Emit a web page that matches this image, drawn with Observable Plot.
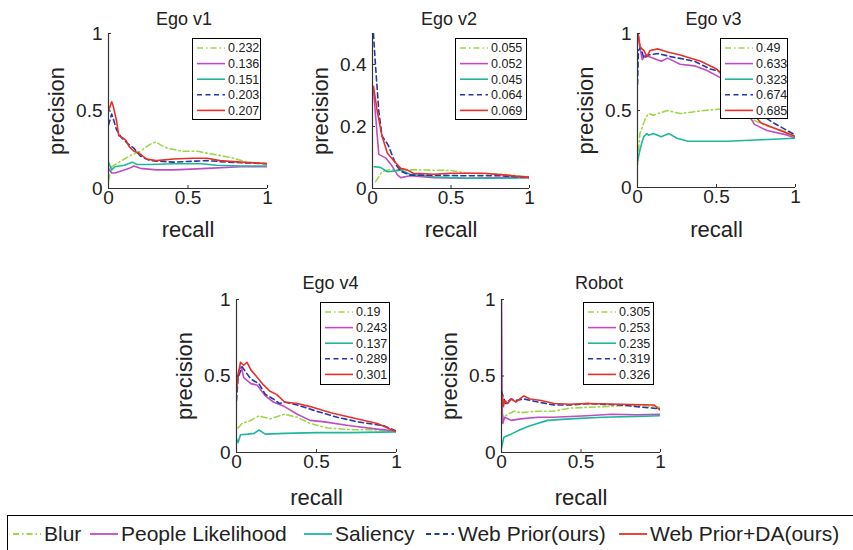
<!DOCTYPE html>
<html><head><meta charset="utf-8">
<script src="https://cdn.jsdelivr.net/npm/d3@7"></script>
<script src="https://cdn.jsdelivr.net/npm/@observablehq/plot@0.6"></script>
<style>
body{margin:0;background:#fff;}
#root{position:relative;width:853px;height:550px;overflow:hidden;background:#fff;font-family:"Liberation Sans",Arial,Helvetica,sans-serif;}
.panel{position:absolute;}
.leg{position:absolute;background:#fff;border:1px solid #000;box-sizing:border-box;}
</style></head><body><div id="root"></div>
<script>
// ---- data: [recall, precision] pairs ----
const methods = ["Blur", "People Likelihood", "Saliency", "Web Prior(ours)", "Web Prior+DA(ours)"];
const panelTitles = ["Ego v1", "Ego v2", "Ego v3", "Ego v4", "Robot"];

const apV1 = ["0.232", "0.136", "0.151", "0.203", "0.207"];
const apV2 = ["0.055", "0.052", "0.045", "0.064", "0.069"];
const apV3 = ["0.49", "0.633", "0.323", "0.674", "0.685"];
const apV4 = ["0.19", "0.243", "0.137", "0.289", "0.301"];
const apRobot = ["0.305", "0.253", "0.235", "0.319", "0.326"];

const v1Blur = [[0,0.05],[0.01,0.1],[0.02,0.14],[0.05,0.16],[0.1,0.19],[0.15,0.22],[0.2,0.24],[0.24,0.27],[0.27,0.29],[0.3,0.3],[0.33,0.28],[0.37,0.26],[0.42,0.25],[0.47,0.24],[0.56,0.24],[0.66,0.22],[0.77,0.2],[0.87,0.17],[1,0.16]];
const v1People = [[0,0.13],[0.02,0.1],[0.04,0.1],[0.07,0.11],[0.1,0.12],[0.13,0.13],[0.16,0.145],[0.2,0.13],[0.25,0.125],[0.3,0.12],[0.41,0.12],[0.52,0.125],[0.62,0.13],[0.83,0.14],[1,0.14]];
const v1Saliency = [[0,0.17],[0.02,0.12],[0.04,0.14],[0.1,0.15],[0.15,0.17],[0.18,0.155],[0.26,0.155],[0.41,0.16],[0.58,0.16],[0.68,0.15],[0.83,0.145],[1,0.145]];
const v1Web = [[0,0.41],[0.02,0.48],[0.03,0.45],[0.05,0.38],[0.08,0.33],[0.12,0.29],[0.16,0.26],[0.2,0.21],[0.26,0.18],[0.41,0.17],[0.62,0.18],[0.75,0.17],[1,0.16]];
const v1WebDA = [[0,0.5],[0.02,0.56],[0.03,0.53],[0.05,0.44],[0.065,0.34],[0.085,0.33],[0.11,0.31],[0.13,0.27],[0.16,0.24],[0.19,0.23],[0.24,0.19],[0.3,0.18],[0.41,0.19],[0.53,0.195],[0.62,0.195],[0.7,0.18],[0.83,0.17],[1,0.16]];

const v2Blur = [[0.02,0.022],[0.06,0.054],[0.1,0.06],[0.18,0.06],[0.29,0.06],[0.5,0.058],[0.6,0.049],[0.81,0.046],[1,0.038]];
const v2People = [[0.006,0.32],[0.04,0.11],[0.085,0.098],[0.12,0.076],[0.16,0.043],[0.18,0.035],[0.24,0.041],[0.39,0.035],[0.6,0.033],[0.81,0.035],[1,0.038]];
const v2Saliency = [[0.01,0.07],[0.05,0.068],[0.095,0.054],[0.14,0.056],[0.18,0.06],[0.24,0.046],[0.39,0.038],[0.6,0.033],[0.81,0.033],[1,0.035]];
const v2Web = [[0.006,0.5],[0.02,0.39],[0.04,0.25],[0.06,0.17],[0.1,0.14],[0.15,0.076],[0.18,0.056],[0.24,0.043],[0.39,0.043],[0.6,0.041],[0.81,0.041],[1,0.035]];
const v2WebDA = [[0.006,0.33],[0.03,0.25],[0.06,0.17],[0.095,0.114],[0.14,0.087],[0.18,0.065],[0.22,0.06],[0.26,0.049],[0.39,0.046],[0.5,0.049],[0.71,0.049],[0.85,0.043],[1,0.035]];

const v3Blur = [[0,0.15],[0.015,0.35],[0.03,0.39],[0.05,0.45],[0.07,0.48],[0.1,0.47],[0.19,0.5],[0.27,0.48],[0.42,0.5],[0.53,0.51],[0.65,0.48],[0.75,0.43],[0.82,0.4],[0.95,0.36],[1,0.33]];
const v3People = [[0.004,1],[0.015,0.91],[0.03,0.83],[0.05,0.86],[0.07,0.85],[0.1,0.84],[0.15,0.82],[0.19,0.84],[0.27,0.8],[0.36,0.79],[0.44,0.76],[0.53,0.71],[0.62,0.6],[0.7,0.48],[0.74,0.41],[0.82,0.37],[0.95,0.34],[1,0.32]];
const v3Saliency = [[0,0.17],[0.015,0.24],[0.03,0.3],[0.04,0.33],[0.06,0.35],[0.07,0.34],[0.1,0.35],[0.15,0.33],[0.2,0.35],[0.25,0.32],[0.32,0.3],[0.57,0.3],[0.78,0.31],[1,0.32]];
const v3Web = [[0,0.67],[0.006,0.89],[0.02,0.91],[0.04,0.84],[0.07,0.86],[0.13,0.87],[0.21,0.85],[0.36,0.82],[0.46,0.77],[0.53,0.75],[0.63,0.66],[0.72,0.55],[0.8,0.46],[0.86,0.42],[1,0.34]];
const v3WebDA = [[0.004,1],[0.017,0.91],[0.04,0.89],[0.06,0.85],[0.08,0.89],[0.13,0.9],[0.19,0.88],[0.27,0.86],[0.4,0.82],[0.5,0.77],[0.6,0.66],[0.7,0.52],[0.78,0.42],[0.88,0.38],[1,0.33]];

const v4Blur = [[0.01,0.16],[0.035,0.19],[0.09,0.21],[0.14,0.24],[0.21,0.22],[0.3,0.25],[0.38,0.23],[0.46,0.19],[0.57,0.16],[0.71,0.15],[0.88,0.147],[1,0.14]];
const v4People = [[0,0.45],[0.015,0.54],[0.03,0.56],[0.045,0.49],[0.09,0.45],[0.13,0.44],[0.18,0.37],[0.23,0.33],[0.3,0.3],[0.38,0.25],[0.46,0.21],[0.55,0.2],[0.71,0.175],[0.88,0.153],[1,0.14]];
const v4Saliency = [[0,0.09],[0.01,0.065],[0.025,0.116],[0.07,0.12],[0.11,0.125],[0.14,0.147],[0.18,0.12],[0.3,0.125],[0.5,0.13],[0.71,0.13],[1,0.135]];
const v4Web = [[0,0.34],[0.01,0.49],[0.035,0.56],[0.055,0.53],[0.09,0.48],[0.14,0.45],[0.18,0.38],[0.23,0.35],[0.27,0.32],[0.3,0.33],[0.38,0.31],[0.5,0.27],[0.63,0.23],[0.76,0.2],[0.92,0.175],[1,0.14]];
const v4WebDA = [[0,0.4],[0.01,0.5],[0.025,0.59],[0.045,0.57],[0.065,0.59],[0.09,0.54],[0.13,0.49],[0.17,0.44],[0.21,0.4],[0.25,0.38],[0.3,0.33],[0.38,0.32],[0.46,0.3],[0.59,0.26],[0.71,0.23],[0.88,0.19],[1,0.135]];

const rbBlur = [[0,0.27],[0.012,0.23],[0.04,0.25],[0.08,0.27],[0.12,0.26],[0.23,0.27],[0.33,0.27],[0.43,0.29],[0.64,0.3],[0.85,0.31],[1,0.295]];
const rbPeople = [[0,1],[0.004,0.3],[0.008,0.19],[0.02,0.23],[0.06,0.21],[0.12,0.22],[0.23,0.23],[0.33,0.23],[0.43,0.235],[0.54,0.24],[0.69,0.25],[0.85,0.247],[1,0.25]];
const rbSaliency = [[0,0.03],[0.015,0.1],[0.06,0.12],[0.12,0.15],[0.18,0.175],[0.29,0.21],[0.43,0.22],[0.64,0.23],[0.85,0.236],[1,0.24]];
const rbWeb = [[0,0.4],[0.012,0.36],[0.027,0.32],[0.06,0.35],[0.09,0.34],[0.14,0.35],[0.23,0.33],[0.33,0.31],[0.43,0.31],[0.54,0.32],[0.75,0.31],[1,0.285]];
const rbWebDA = [[0,0.3],[0.006,0.37],[0.012,0.3],[0.02,0.34],[0.04,0.32],[0.06,0.35],[0.09,0.33],[0.14,0.37],[0.18,0.35],[0.25,0.34],[0.33,0.32],[0.43,0.315],[0.54,0.32],[0.75,0.315],[0.96,0.31],[1,0.275]];

const xTicks = [0, 0.5, 1];
const yTicksFull = [0, 0.5, 1];
const yTicksV2 = [0, 0.2, 0.4];

// ---- styles ----
const colors = ["#9ed84a", "#c04cc4", "#1fb79c", "#2438a8", "#e8302a"];
const dashes = ["6,3,1.5,3", null, null, "5,3.5", null];
const font = '"Liberation Sans", Arial, Helvetica, sans-serif';
const ink = "#222";

// layout: frame [left, top, width, height], legend box [left, top, width, height], title / label shifts
const panels = [
  {title: panelTitles[0], series: [v1Blur, v1People, v1Saliency, v1Web, v1WebDA], ap: apV1, yMax: 1, yTicks: yTicksFull, frame: [108, 33, 159, 155], legend: [192, 38, 69, 82], tdx: -4, tdy: -14, ldy: 41},
  {title: panelTitles[1], series: [v2Blur, v2People, v2Saliency, v2Web, v2WebDA], ap: apV2, yMax: 0.5, yTicks: yTicksV2, frame: [372, 33, 157, 155], legend: [455, 38, 72, 82], tdx: -2, tdy: -14, ldy: 41},
  {title: panelTitles[2], series: [v3Blur, v3People, v3Saliency, v3Web, v3WebDA], ap: apV3, yMax: 1, yTicks: yTicksFull, frame: [637, 33, 158, 154], legend: [720, 38, 68, 81], tdx: -3, tdy: -14, ldy: 42},
  {title: panelTitles[3], series: [v4Blur, v4People, v4Saliency, v4Web, v4WebDA], ap: apV4, yMax: 1, yTicks: yTicksFull, frame: [236, 299, 160, 153], legend: [320, 302, 70, 83], tdx: 14, tdy: -16, ldy: 45},
  {title: panelTitles[4], series: [rbBlur, rbPeople, rbSaliency, rbWeb, rbWebDA], ap: apRobot, yMax: 1, yTicks: yTicksFull, frame: [501, 299, 159, 153], legend: [583, 302, 71, 83], tdx: 18, tdy: -16, ldy: 45}
];

const root = document.getElementById("root");
const ML = 72, MR = 16, MT = 33, MB = 62;

panels.forEach(p => {
  const [fl, ft, fw, fh] = p.frame;
  const rows = p.series.flatMap((s, i) => s.map(([r, pr]) => ({method: methods[i], recall: r, precision: pr})));
  const chart = Plot.plot({
    width: fw + ML + MR, height: fh + MT + MB,
    marginLeft: ML, marginRight: MR, marginTop: MT, marginBottom: MB,
    x: {domain: [0, 1]},
    y: {domain: [0, p.yMax]},
    style: {fontFamily: font, background: "transparent", overflow: "visible", color: ink, fontWeight: "normal"},
    marks: [
      ...methods.map((m, i) => Plot.line(rows.filter(d => d.method === m), {
        x: "recall", y: "precision", stroke: colors[i], strokeWidth: 1.6,
        strokeDasharray: dashes[i], clip: true
      })),
      Plot.ruleX([0], {stroke: "#333", strokeWidth: 1.2}),
      Plot.ruleY([0], {stroke: "#333", strokeWidth: 1.2}),
      Plot.axisX({ticks: xTicks, tickFormat: d => String(d), tickSize: -3, tickPadding: 5, fontSize: 19, label: null, stroke: "#333", fill: ink}),
      Plot.axisY({ticks: p.yTicks, tickFormat: d => String(d), tickSize: -3, tickPadding: 9, fontSize: 19, label: null, stroke: "#333", fill: ink}),
      Plot.text([p.title], {frameAnchor: "top", textAnchor: "middle", lineAnchor: "middle", dy: p.tdy, dx: p.tdx, fontSize: 18, fill: ink}),
      Plot.text(["recall"], {frameAnchor: "bottom", textAnchor: "middle", lineAnchor: "middle", dy: p.ldy, fontSize: 22, fill: ink}),
      Plot.text(["precision"], {frameAnchor: "left", textAnchor: "middle", lineAnchor: "middle", dx: -52, rotate: -90, fontSize: 22, fill: ink})
    ]
  });
  const wrap = document.createElement("div");
  wrap.className = "panel";
  wrap.style.left = (fl - ML) + "px";
  wrap.style.top = (ft - MT) + "px";
  wrap.appendChild(chart);
  root.appendChild(wrap);

  // in-panel legend
  const [ll, lt, lw, lh] = p.legend;
  const box = document.createElement("div");
  box.className = "leg";
  box.style.left = ll + "px"; box.style.top = lt + "px";
  box.style.width = lw + "px"; box.style.height = lh + "px";
  const svg = d3.create("svg").attr("width", lw - 2).attr("height", lh - 2).style("display", "block");
  methods.forEach((m, i) => {
    const y = 9 + i * 15.6;
    svg.append("line").attr("x1", 4).attr("x2", 32).attr("y1", y).attr("y2", y)
      .attr("stroke", colors[i]).attr("stroke-width", 1.6).attr("stroke-dasharray", dashes[i]);
    svg.append("text").attr("x", 35).attr("y", y).attr("dy", "0.35em")
      .attr("font-family", font).attr("font-size", 12.5).attr("fill", ink).text(p.ap[i]);
  });
  box.appendChild(svg.node());
  root.appendChild(box);
});

// bottom legend
const lineStarts = [5, 82, 296, 418, 611];
const textStarts = [36, 113, 327, 450, 642];
const bottom = document.createElement("div");
bottom.className = "leg";
bottom.style.left = "7px"; bottom.style.top = "515px";
bottom.style.width = "900px"; bottom.style.height = "60px";
const bsvg = d3.create("svg").attr("width", 898).attr("height", 58).style("display", "block");
methods.forEach((m, i) => {
  bsvg.append("line").attr("x1", lineStarts[i]).attr("x2", lineStarts[i] + 28).attr("y1", 18).attr("y2", 18)
    .attr("stroke", colors[i]).attr("stroke-width", 1.8).attr("stroke-dasharray", dashes[i]);
  bsvg.append("text").attr("x", textStarts[i]).attr("y", 18).attr("dy", "0.35em")
    .attr("font-family", font).attr("font-size", 21).attr("fill", ink).text(m);
});
bottom.appendChild(bsvg.node());
root.appendChild(bottom);
</script>
</body></html>
